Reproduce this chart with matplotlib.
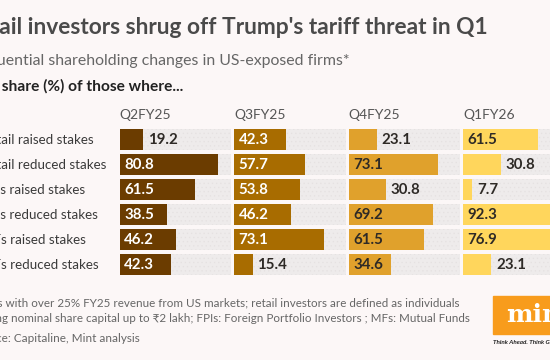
import matplotlib
matplotlib.use("Agg")
import matplotlib.pyplot as plt
from matplotlib.patches import Rectangle

plt.rcParams['font.family'] = ['Lato', 'DejaVu Sans']
plt.rcParams['hatch.linewidth'] = 0.4

# data
quarters = ["Q2FY25", "Q3FY25", "Q4FY25", "Q1FY26"]
rows = ["Retail raised stakes", "Retail reduced stakes", "FPIs raised stakes",
        "FPIs reduced stakes", "MFs raised stakes", "MFs reduced stakes"]
q2fy25 = [19.2, 80.8, 61.5, 38.5, 46.2, 42.3]
q3fy25 = [42.3, 57.7, 53.8, 46.2, 73.1, 15.4]
q4fy25 = [23.1, 73.1, 30.8, 69.2, 61.5, 34.6]
q1fy26 = [61.5, 30.8, 7.7, 92.3, 76.9, 23.1]
series = [q2fy25, q3fy25, q4fy25, q1fy26]

colors = ["#6b3c00", "#a86c00", "#e0a12c", "#ffd65c"]
inside_txt = ["white", "white", "#2e2a26", "#2e2a26"]
bg = "#fcf7f7"
W, H = 550, 360

def fx(x):
    return x / W

def fy(y):
    return 1 - y / H

fig = plt.figure(figsize=(5.5, 3.6), dpi=100, facecolor=bg)

track = max(max(s) for s in series)
x0, step, top, bot = 119.5, 114.5, 127.2, 277.2
scale = 1.225  # px per unit

for i, (q, vals) in enumerate(zip(quarters, series)):
    left = x0 + step * i
    ax = fig.add_axes([fx(left), fy(bot), step / W, (bot - top) / H])
    ax.set_facecolor("none")
    ax.set_xlim(0, step / scale)
    ax.set_ylim(len(rows) - 0.5, -0.5)
    ax.axis("off")
    ys = list(range(len(rows)))
    ax.barh(ys, [track - 1.2] * len(rows), height=0.82, color="#eeebeb", hatch="....",
            edgecolor="#e5e1e1", linewidth=0)
    ax.barh(ys, vals, height=0.82, color=colors[i], linewidth=0)
    for y, v in zip(ys, vals):
        if v >= 34:
            ax.annotate(f"{v}", (0, y), xytext=(3.3, 0), textcoords="offset points",
                        ha="left", va="center", fontsize=10.8, fontweight="bold",
                        color=inside_txt[i])
        else:
            ax.annotate(f"{v}", (v, y), xytext=(3.3, 0), textcoords="offset points",
                        ha="left", va="center", fontsize=10.8, fontweight="bold",
                        color="#2e2a26")
    fig.text(fx(left), fy(115), q, ha="left", va="center", fontsize=10, color="#555555")

for j, r in enumerate(rows):
    fig.text(fx(-19), fy(139.7 + 25 * j), r, ha="left", va="center", fontsize=9.6,
             color="#3a3a3a")

# titles
fig.text(fx(488), fy(27), "Retail investors shrug off Trump's tariff threat in Q1",
         ha="right", va="center", fontsize=16.35, fontweight="bold", color="#4a4a4a")
fig.text(fx(350), fy(61), "Sequential shareholding changes in US-exposed firms*",
         ha="right", va="center", fontsize=11.4, color="#666666")
fig.text(fx(183), fy(86), "Net share (%) of those where...",
         ha="right", va="center", fontsize=11.2, fontweight="bold", color="#222222")

# footnotes
fig.text(fx(460), fy(303),
         "*Firms with over 25% FY25 revenue from US markets; retail investors are defined as individuals",
         ha="right", va="center", fontsize=8.38, color="#666666")
fig.text(fx(470), fy(318.5),
         "holding nominal share capital up to \u20b92 lakh; FPIs: Foreign Portfolio Investors ; MFs: Mutual Funds",
         ha="right", va="center", fontsize=8.33, color="#666666")
fig.text(fx(140), fy(339), "Source: Capitaline, Mint analysis",
         ha="right", va="center", fontsize=8.5, color="#666666")

# mint logo
fig.patches.append(Rectangle((fx(493), fy(334)), (W - 493) / W + 0.05, 38 / H,
                             transform=fig.transFigure, color="#f89c1c", zorder=0))
fig.text(fx(506), fy(315), "mint", ha="left", va="center", fontsize=18,
         fontweight="bold", family="DejaVu Serif", color="white")
fig.text(fx(493), fy(343), "Think Ahead. Think Growth.", ha="left", va="center",
         fontsize=4.5, fontweight="bold", style="italic", color="#222222")

fig.savefig("out.png", dpi=100, facecolor=bg)
